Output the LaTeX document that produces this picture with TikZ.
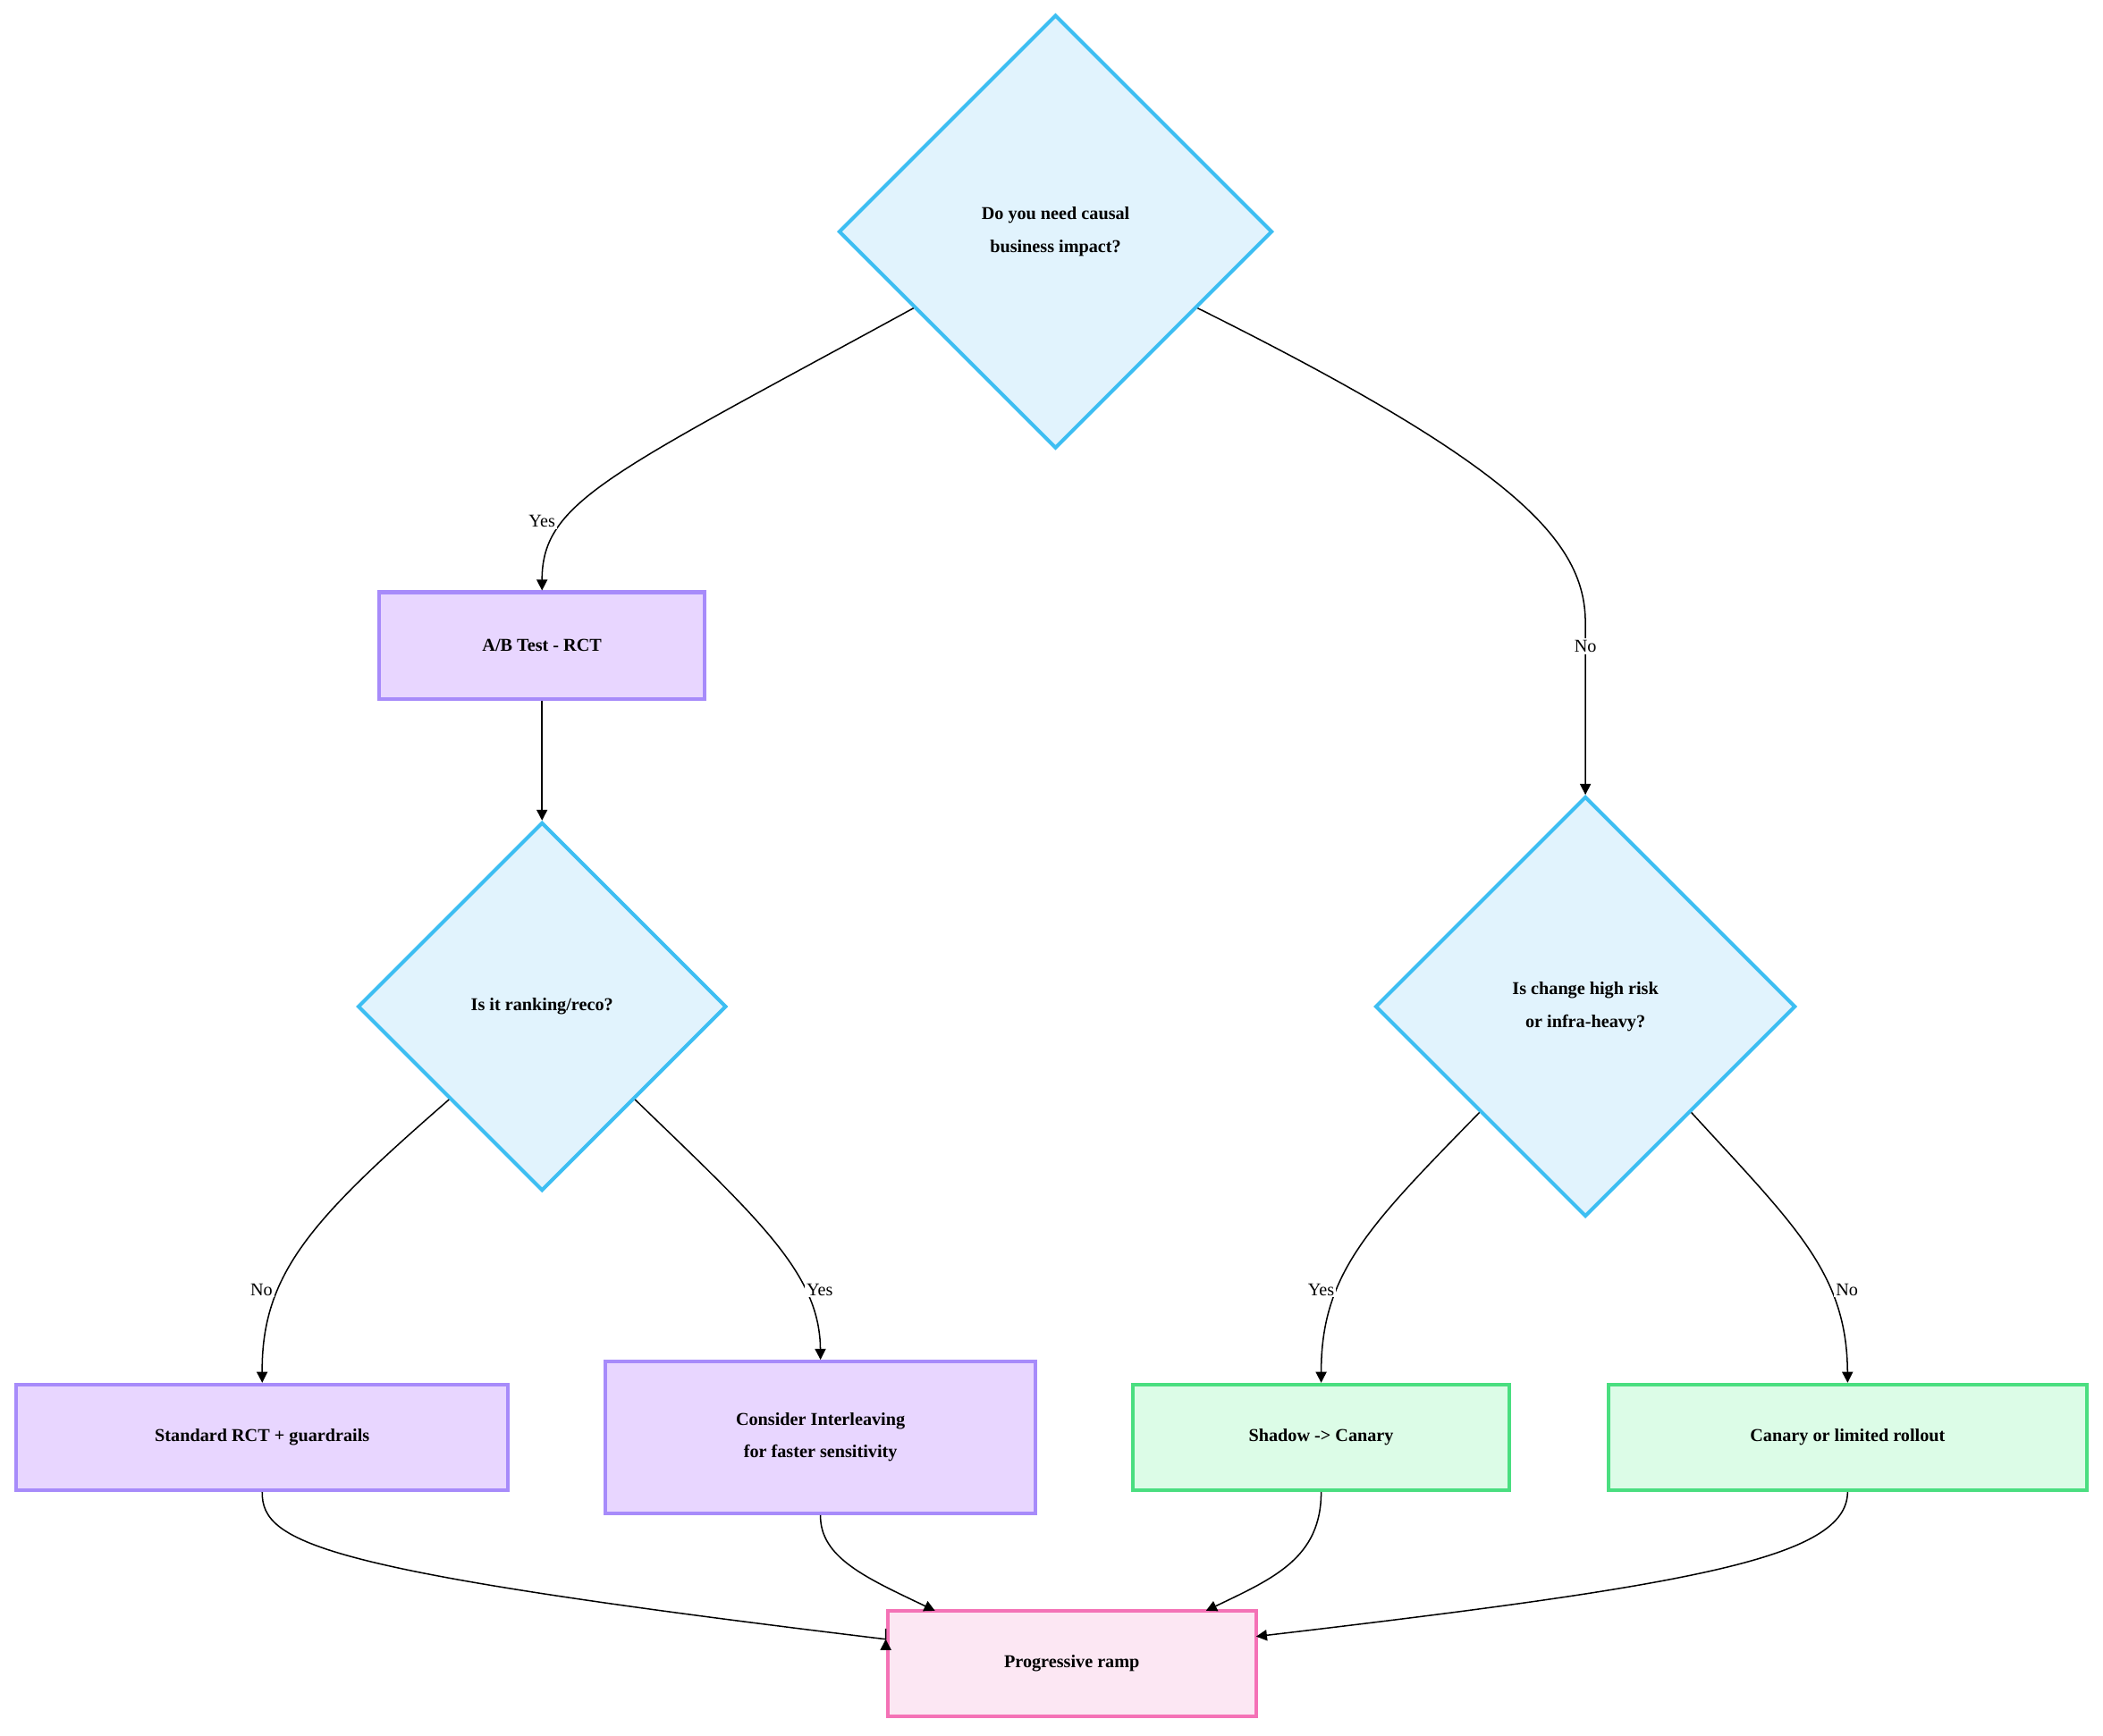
\documentclass[tikz,border=0pt]{standalone}
\usepackage{fontspec}
\setmainfont{Liberation Serif}
\usetikzlibrary{shapes.geometric,arrows.meta,calc}
\definecolor{dfill}{HTML}{E1F3FD}
\definecolor{dline}{HTML}{3DBEF2}
\definecolor{pfill}{HTML}{E8D6FF}
\definecolor{pline}{HTML}{A78BFA}
\definecolor{gfill}{HTML}{DCFCE7}
\definecolor{gline}{HTML}{4ADE80}
\definecolor{kfill}{HTML}{FCE7F3}
\definecolor{kline}{HTML}{F472B6}
\begin{document}
\begin{tikzpicture}[x=0.75pt,y=-0.75pt,
  dia/.style={diamond,aspect=1,draw=dline,fill=dfill,line width=2pt,inner sep=0pt,font=\bfseries,align=center},
  box/.style={rectangle,line width=2pt,inner sep=0pt,font=\bfseries,align=center},
  pbox/.style={box,draw=pline,fill=pfill},
  gbox/.style={box,draw=gline,fill=gfill},
  kbox/.style={box,draw=kline,fill=kfill},
  lab/.style={fill=white,inner sep=1pt,font=\normalsize},
  e/.style={draw,line width=0.75pt,-{Triangle[length=6pt,width=6pt]}}]
\useasboundingbox (0,0) rectangle (1552,1281);
\node[dia,minimum width=240pt,minimum height=240pt] (d1) at (779,171) {Do you need causal\\[6pt]business impact?};
\node[pbox,minimum width=180pt,minimum height=59pt] (ab) at (400,476.5) {A/B Test - RCT};
\node[dia,minimum width=204pt,minimum height=204pt] (d2) at (400,743) {Is it ranking/reco?};
\node[dia,minimum width=232.5pt,minimum height=232.5pt] (d3) at (1170,743) {Is change high risk\\[6pt]or infra-heavy?};
\node[pbox,minimum width=272pt,minimum height=58.5pt] (std) at (193.5,1061) {Standard RCT + guardrails};
\node[pbox,minimum width=238pt,minimum height=84pt] (con) at (605.5,1061) {Consider Interleaving\\[6pt]for faster sensitivity};
\node[gbox,minimum width=208.5pt,minimum height=58.5pt] (sh) at (975,1061) {Shadow -> Canary};
\node[gbox,minimum width=265pt,minimum height=58.5pt] (can) at (1363.5,1061) {Canary or limited rollout};
\node[kbox,minimum width=204pt,minimum height=58.5pt] (pr) at (791,1228) {Progressive ramp};

\path[e] ($(d1.west)!0.35!(d1.south)$) .. controls (450,350) and (400,370) .. (ab.north);
\node[lab] at (400,385) {Yes};
\path[e] ($(d1.east)!0.35!(d1.south)$) .. controls (1120,345) and (1170,400) .. (1170,460) -- (d3.north);
\node[lab] at (1170,477) {No};
\path[e] (ab.south) -- (d2.north);
\path[e] ($(d2.west)!0.5!(d2.south)$) .. controls (230,900) and (193,940) .. (std.north);
\node[lab] at (193,952) {No};
\path[e] ($(d2.east)!0.5!(d2.south)$) .. controls (560,900) and (605,940) .. (con.north);
\node[lab] at (605,952) {Yes};
\path[e] ($(d3.west)!0.5!(d3.south)$) .. controls (1010,905) and (975,940) .. (sh.north);
\node[lab] at (975,952) {Yes};
\path[e] ($(d3.east)!0.5!(d3.south)$) .. controls (1325,905) and (1363,940) .. (can.north);
\node[lab] at (1363,952) {No};
\path[e] (std.south) .. controls (193,1140) and (240,1160) .. (pr.west|-0,1210) -- ([yshift=-0pt]pr.west|-0,1210);
\path[e] (con.south) .. controls (605,1150) and (640,1165) .. (690,1189);
\path[e] (sh.south) .. controls (975,1150) and (940,1165) .. (890,1189);
\path[e] (can.south) .. controls (1363,1150) and (1250,1170) .. (927,1208);
\end{tikzpicture}
\end{document}
